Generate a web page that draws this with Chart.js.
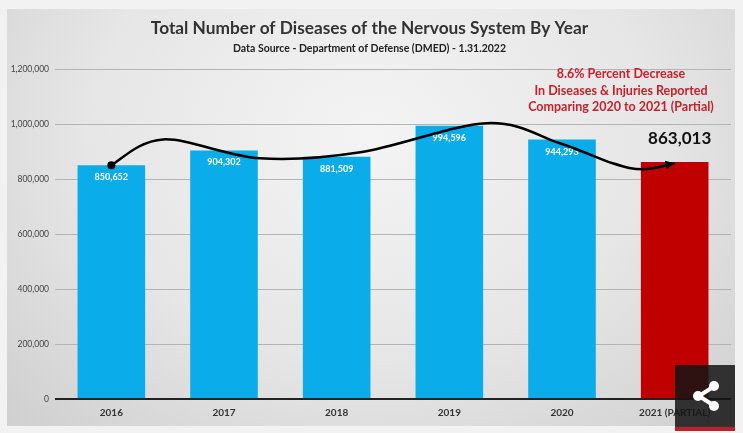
<!DOCTYPE html>
<html>
<head>
<meta charset="utf-8">
<script src="https://cdn.jsdelivr.net/npm/chart.js@4.4.1/dist/chart.umd.min.js"></script>
<style>
  html, body { margin: 0; padding: 0; background: #f2f2f2; }
  #wrap { position: relative; width: 743px; height: 433px; overflow: hidden; }
  #panel {
    position: absolute; left: 7px; top: 9px; width: 728px; height: 417px;
    background: radial-gradient(ellipse at 50% 30%, #f4f4f4 0%, #e6e6e6 55%, #cfcfcf 100%);
  }
  #chart { position: absolute; left: 0; top: 0; }
  #share {
    position: absolute; left: 675px; top: 365px; width: 60px; height: 62px;
    background: rgba(20, 20, 20, 0.85); border-bottom: 4px solid #c0202a;
  }
</style>
</head>
<body>
<div id="wrap">
  <div id="panel"></div>
  <canvas id="chart" width="743" height="433"></canvas>
  <div id="share">
    <svg width="60" height="62" viewBox="0 0 60 62">
      <g fill="#fff" stroke="#fff" stroke-width="4">
        <line x1="24" y1="31" x2="38" y2="22"/>
        <line x1="24" y1="31" x2="38" y2="40"/>
        <circle cx="23" cy="31" r="5" stroke="none"/>
        <circle cx="39" cy="21" r="5" stroke="none"/>
        <circle cx="39" cy="41" r="5" stroke="none"/>
      </g>
    </svg>
  </div>
</div>
<script>
document.addEventListener('DOMContentLoaded', function() {
    var years = ['2016', '2017', '2018', '2019', '2020', '2021 (PARTIAL)'];
    var cases = [850652, 904302, 881509, 994596, 944293, 863013];
    var barColors = ['#0bacea', '#0bacea', '#0bacea', '#0bacea', '#0bacea', '#c00000'];
    var yTicks = [0, 200000, 400000, 600000, 800000, 1000000, 1200000];
    var noteLines = ['8.6% Percent Decrease', 'In Diseases & Injuries Reported', 'Comparing 2020 to 2021 (Partial)'];

    // hand drawn trend arrow, anchor points in (category index, value)
    var arrowIdx = [0, 0.46, 1.32, 2.21, 3.33, 3.98, 4.45, 4.72, 5.0];
    var arrowVal = [851000, 945000, 876000, 898000, 1004000, 931000, 858000, 836000, 858000];

    var fontName = 'Lato, "Open Sans", sans-serif';
    var fmt = function(v) { return v.toLocaleString('en-US'); };

    var labelPlugin = {
        id: 'barLabels',
        afterDatasetsDraw: function(chart) {
            var ctx = chart.ctx;
            var meta = chart.getDatasetMeta(0);
            ctx.save();
            ctx.textAlign = 'center';
            ctx.textBaseline = 'middle';
            meta.data.forEach(function(bar, i) {
                if (i === cases.length - 1) {
                    ctx.fillStyle = '#111';
                    ctx.font = 'bold 17px ' + fontName;
                    ctx.fillText(fmt(cases[i]), bar.x + 5, bar.y - 23);
                } else {
                    ctx.fillStyle = '#ffffff';
                    ctx.font = 'bold 9px ' + fontName;
                    ctx.fillText(fmt(cases[i]), bar.x, bar.y + 12);
                }
            });

            // red note
            ctx.fillStyle = '#c8202a';
            ctx.font = 'bold 12.5px ' + fontName;
            noteLines.forEach(function(t, k) {
                ctx.fillText(t, 621, 74 + k * 16.5);
            });

            // trend arrow
            var xs = chart.scales.x, ys = chart.scales.y;
            var step = xs.getPixelForValue(1) - xs.getPixelForValue(0);
            var pts = arrowIdx.map(function(ix, k) {
                return { x: xs.getPixelForValue(0) + ix * step, y: ys.getPixelForValue(arrowVal[k]) };
            });
            ctx.strokeStyle = '#000';
            ctx.lineWidth = 2.5;
            ctx.beginPath();
            ctx.moveTo(pts[0].x, pts[0].y);
            for (var i = 0; i < pts.length - 1; i++) {
                var p0 = pts[Math.max(i - 1, 0)], p1 = pts[i], p2 = pts[i + 1], p3 = pts[Math.min(i + 2, pts.length - 1)];
                ctx.bezierCurveTo(p1.x + (p2.x - p0.x) / 6, p1.y + (p2.y - p0.y) / 6,
                                  p2.x - (p3.x - p1.x) / 6, p2.y - (p3.y - p1.y) / 6, p2.x, p2.y);
            }
            ctx.stroke();
            ctx.fillStyle = '#000';
            ctx.beginPath();
            ctx.arc(pts[0].x, pts[0].y, 4, 0, Math.PI * 2);
            ctx.fill();
            var a = pts[pts.length - 2], b = pts[pts.length - 1];
            var ang = Math.atan2(b.y - a.y, b.x - a.x);
            ctx.beginPath();
            ctx.moveTo(b.x, b.y);
            ctx.lineTo(b.x - 10 * Math.cos(ang - 0.45), b.y - 10 * Math.sin(ang - 0.45));
            ctx.lineTo(b.x - 10 * Math.cos(ang + 0.45), b.y - 10 * Math.sin(ang + 0.45));
            ctx.closePath();
            ctx.fill();
            ctx.restore();
        }
    };

    new Chart(document.getElementById('chart').getContext('2d'), {
        type: 'bar',
        data: {
            labels: years,
            datasets: [{
                data: cases,
                backgroundColor: barColors,
                borderWidth: 0,
                barPercentage: 0.6,
                categoryPercentage: 1.0
            }]
        },
        plugins: [labelPlugin],
        options: {
            responsive: false,
            animation: false,
            layout: { padding: { left: 8, right: 12, top: 14, bottom: 14 } },
            plugins: {
                legend: { display: false },
                tooltip: { enabled: false },
                title: {
                    display: true,
                    text: 'Total Number of Diseases of the Nervous System By Year',
                    color: '#333',
                    font: { family: fontName, size: 17.3, weight: 'bold' },
                    padding: { top: 4, bottom: 4 }
                },
                subtitle: {
                    display: true,
                    text: 'Data Source - Department of Defense (DMED) - 1.31.2022',
                    color: '#222',
                    font: { family: fontName, size: 10.5, weight: 'bold' },
                    padding: { top: 0, bottom: 14 }
                }
            },
            scales: {
                x: {
                    grid: { display: false },
                    border: { display: false },
                    ticks: { color: '#333', font: { family: fontName, size: 10, weight: 'bold' }, padding: 0 }
                },
                y: {
                    min: 0,
                    max: 1200000,
                    afterBuildTicks: function(axis) {
                        axis.ticks = yTicks.map(function(v) { return { value: v }; });
                    },
                    afterFit: function(axis) { axis.width = 47; },
                    border: { display: false },
                    grid: {
                        color: function(c) { return c.tick && c.tick.value === 0 ? '#222' : '#b4b4b4'; },
                        lineWidth: function(c) { return c.tick && c.tick.value === 0 ? 2 : 1; },
                        drawTicks: false
                    },
                    ticks: {
                        color: '#444',
                        padding: 6,
                        font: { family: fontName, size: 8.5 },
                        callback: function(v) { return fmt(v); }
                    }
                }
            }
        }
    });
});
</script>
</body>
</html>
